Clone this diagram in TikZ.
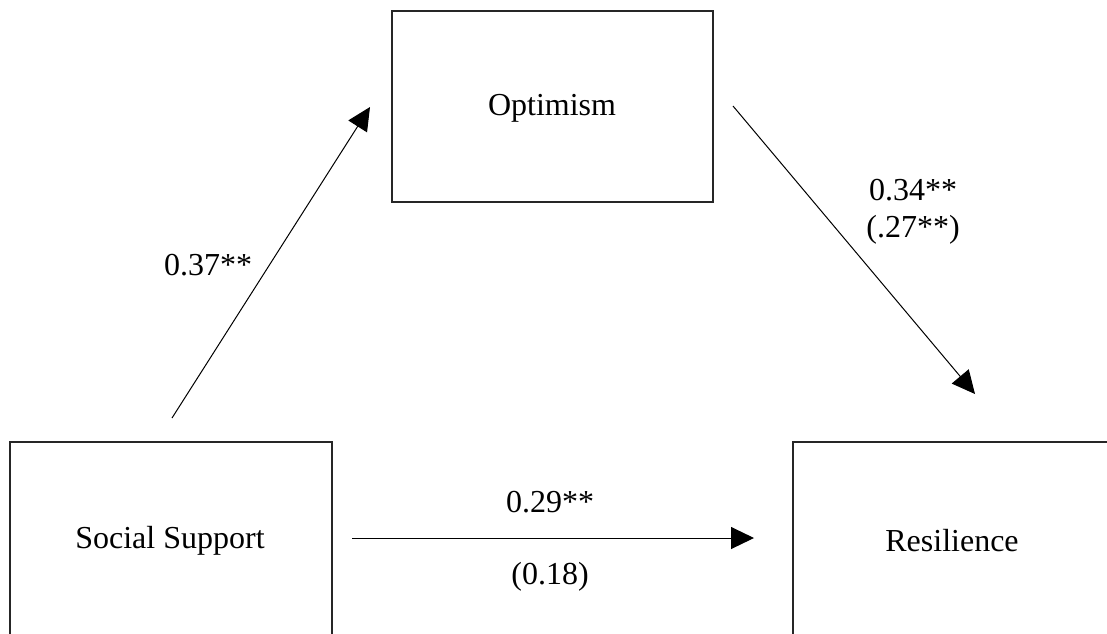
\documentclass[tikz,border=0pt]{standalone}
\usepackage{fontspec}
\setmainfont{Liberation Serif}
\usetikzlibrary{arrows.meta}
\tikzset{
  boxline/.style={line width=1.4pt, draw=black!85},
  conn/.style={line width=1pt, -{Triangle[length=23pt,width=22pt]}},
  lbl/.style={font=\fontsize{32}{37}\selectfont, inner sep=0pt, align=center},
}
\begin{document}
\begin{tikzpicture}[x=1pt,y=-1pt]
\useasboundingbox (0,0) rectangle (1107,633);
% boxes (bottom edge cut by the page)
\draw[boxline] (392,11) rectangle (713,202);
\draw[boxline] (10,634) -- (10,442) -- (332,442) -- (332,634);
\draw[boxline] (793,634) -- (793,442) -- (1108,442);
% box texts
\node[lbl] (opt) at (552,108) {Optimism};
\node[lbl] (soc) at (170,541) {Social Support};
\node[lbl] (res) at (952,541) {Resilience};
% connector ends
\coordinate (a1s) at (172,418);
\coordinate (a1e) at (370,107);
\coordinate (a2s) at (733,106);
\coordinate (a2e) at (975,394);
\coordinate (a3s) at (352,538);
\coordinate (a3e) at (754,538);
\draw[conn] (a1s) -- (a1e);
\draw[conn] (a2s) -- (a2e);
\draw[conn] (a3s) -- (a3e);
% labels
\node[lbl] (l1) at (208,265) {0.37**};
\node[lbl] (l2) at (913,212) {0.34**\\(.27**)};
\node[lbl] (l3a) at (550,502) {0.29**};
\node[lbl] (l3b) at (550,577) {(0.18)};
\end{tikzpicture}
\end{document}
